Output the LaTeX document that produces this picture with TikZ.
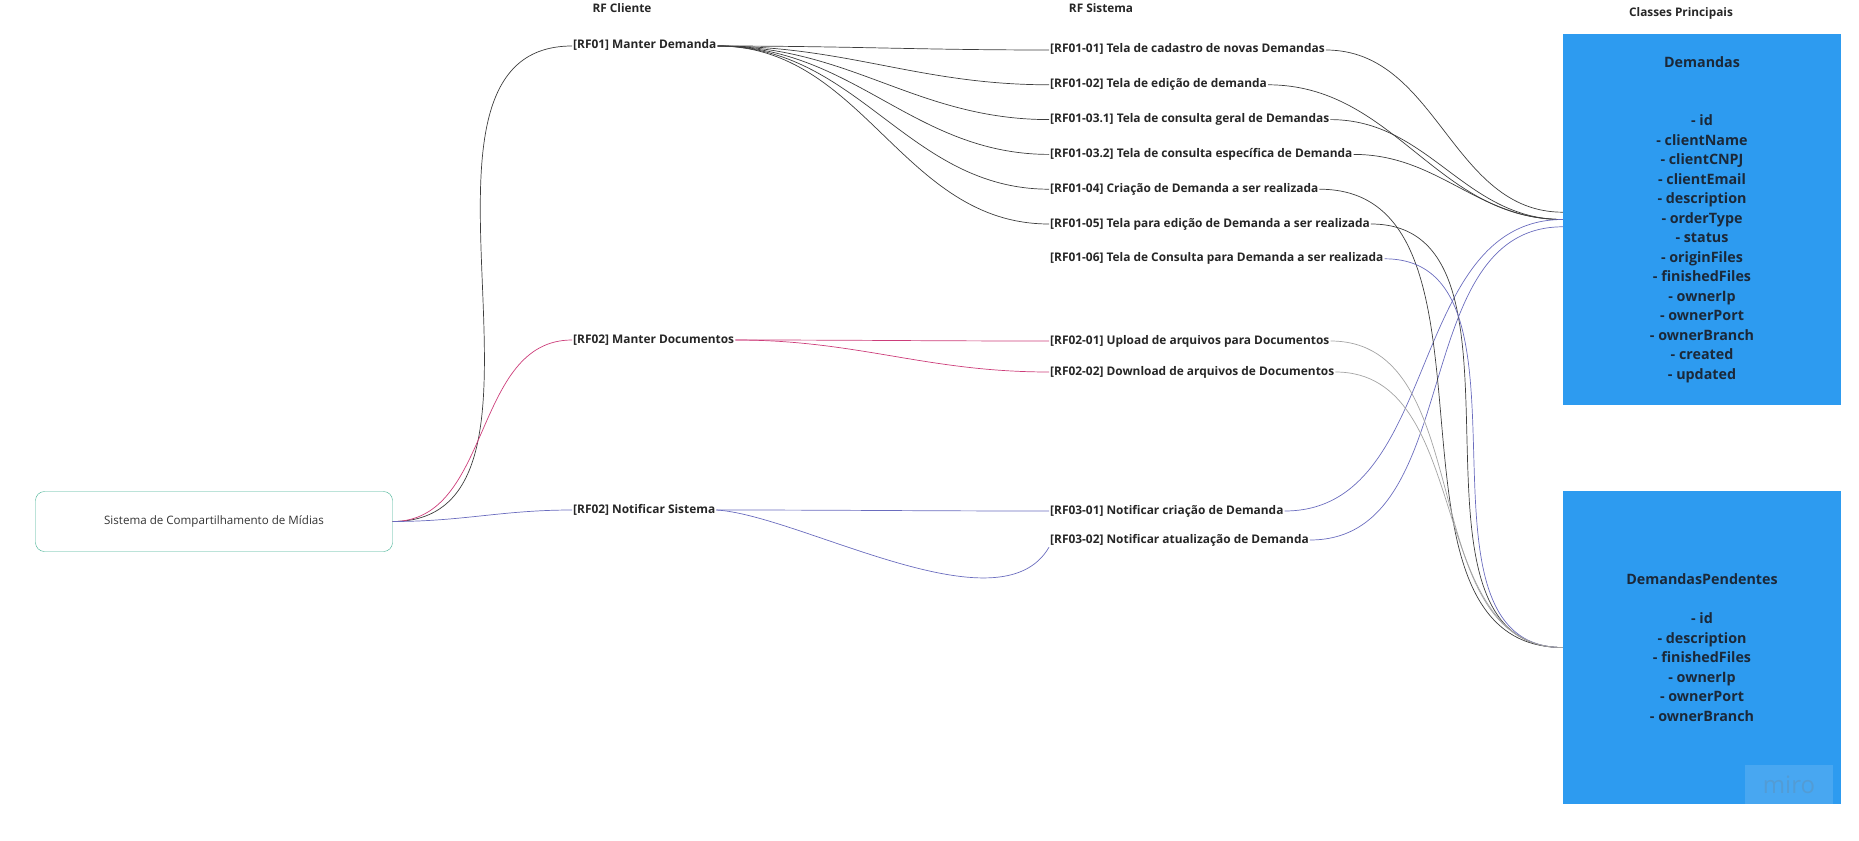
\documentclass[tikz,border=0pt]{standalone}
\usepackage{fontspec}
\setmainfont{Open Sans}
\usepackage{xcolor}
\usetikzlibrary{positioning}

\definecolor{linkdark}{HTML}{3D3D3D}
\definecolor{linkgray}{HTML}{A3A3A3}
\definecolor{linkpink}{HTML}{CC3D7A}
\definecolor{linkblue}{HTML}{6A6CBE}
\definecolor{rootline}{HTML}{42B092}
\definecolor{clsblue}{HTML}{2D9BF0}
\definecolor{clstext}{HTML}{1B2838}

\begin{document}
\begin{tikzpicture}[x=1pt,y=-1pt,
      req/.style={
         inner sep=1pt,
         anchor=west,
         text=black!85,
         text height=9pt,
         text depth=3pt,
         font=\bfseries\fontsize{11.9}{13}\selectfont},
      head/.style={
         inner sep=0pt,
         text=black!85,
         font=\bfseries\fontsize{11.8}{13}\selectfont},
      root/.style={
         draw=rootline,
         rounded corners=9pt,
         minimum width=357pt,
         minimum height=60pt,
         text=black!80,
         font=\fontsize{11.6}{13}\selectfont},
      cls/.style={
         fill=clsblue,
         text=clstext,
         align=center,
         inner sep=0pt,
         minimum width=278pt,
         font=\bfseries\fontsize{14.3}{19.5}\selectfont},
      flow/.style={out=0,in=180},
      link_dark/.style={flow, draw=linkdark, line width=0.7pt},
      link_gray/.style={flow, draw=linkgray, line width=0.7pt},
      link_pink/.style={flow, draw=linkpink, line width=0.7pt},
      link_blue/.style={flow, draw=linkblue, line width=0.7pt}
]
      \useasboundingbox (0,0) rectangle (1859,840);

      %column titles
      \node[head] (tcli) at (622,8) {RF Cliente};
      \node[head] (tsis) at (1101,8) {RF Sistema};
      \node[head] (tcls) at (1681,13) {Classes Principais};

      %root
      \node[root] (sys) at (214,521.5) {Sistema de Compartilhamento de Mídias};

      %RF cliente
      \node[req] (m1) at (572,46) {[RF01] Manter Demanda};
      \node[req] (m2) at (572,340) {[RF02] Manter Documentos};
      \node[req] (m3) at (572,510) {[RF02] Notificar Sistema};

      %RF sistema
      \node[req] (r01) at (1049,50) {[RF01-01] Tela de cadastro de novas Demandas};
      \node[req,below=34.8pt of r01.west,anchor=west] (r02) {[RF01-02] Tela de edição de demanda};
      \node[req,below=34.8pt of r02.west,anchor=west] (r031) {[RF01-03.1] Tela de consulta geral de Demandas};
      \node[req,below=34.8pt of r031.west,anchor=west] (r032) {[RF01-03.2] Tela de consulta específica de Demanda};
      \node[req,below=34.8pt of r032.west,anchor=west] (r04) {[RF01-04] Criação de Demanda a ser realizada};
      \node[req,below=34.8pt of r04.west,anchor=west] (r05) {[RF01-05] Tela para edição de Demanda a ser realizada};
      \node[req,below=34.8pt of r05.west,anchor=west] (r06) {[RF01-06] Tela de Consulta para Demanda a ser realizada};

      \node[req] (d1) at (1049,341) {[RF02-01] Upload de arquivos para Documentos};
      \node[req,below=31pt of d1.west,anchor=west] (d2) {[RF02-02] Download de arquivos de Documentos};

      \node[req] (n1) at (1049,511) {[RF03-01] Notificar criação de Demanda};
      \node[req,below=29pt of n1.west,anchor=west] (n2) {[RF03-02] Notificar atualização de Demanda};

      %classes
      \node[cls,minimum height=371pt] (dem) at (1702,219.5) {Demandas\\[39pt]
         - id\\ - clientName\\ - clientCNPJ\\ - clientEmail\\ - description\\
         - orderType\\ - status\\ - originFiles\\ - finishedFiles\\ - ownerIp\\
         - ownerPort\\ - ownerBranch\\ - created\\ - updated};
      \node[cls,minimum height=313pt] (pen) at (1702,647.5) {DemandasPendentes\\[19.5pt]
         - id\\ - description\\ - finishedFiles\\ - ownerIp\\ - ownerPort\\ - ownerBranch};
      \node[fill=white,fill opacity=0.13,text opacity=0.35,text=gray!70!clsblue,
         minimum width=88pt,minimum height=39pt,anchor=south east,
         font=\fontsize{24}{24}\selectfont] (wm) at (pen.south east) [xshift=-8pt] {miro};

      %root to RF cliente
      \draw[link_dark] (sys.east) to (m1.west);
      \draw[link_pink] (sys.east) to (m2.west);
      \draw[link_blue] (sys.east) to (m3.west);

      %RF cliente to RF sistema
      \foreach \j in {r01,r02,r031,r032,r04,r05}
        \draw[link_dark] (m1.east) to (\j.west);
      \foreach \j in {d1,d2}
        \draw[link_pink] (m2.east) to (\j.west);
      \draw[link_blue] (m3.east) to (n1.west);
      \draw[linkblue,line width=0.7pt] (m3.east) .. controls (800,515) and (1000,632) .. (n2.south west);

      %RF sistema to classes
      \foreach \i/\j/\s in {% start/end/style
        r01/dem.177/link_dark,
        r02/dem.west/link_dark,
        r031/dem.west/link_dark,
        r032/dem.west/link_dark,
        n1/dem.west/link_blue,
        n2/dem.183/link_blue,
        r04/pen.west/link_dark,
        r05/pen.west/link_dark,
        r06/pen.west/link_blue,
        d1/pen.west/link_gray,
        d2/pen.west/link_gray}
        \draw[\s] (\i.east) to (\j);

\end{tikzpicture}
\end{document}
